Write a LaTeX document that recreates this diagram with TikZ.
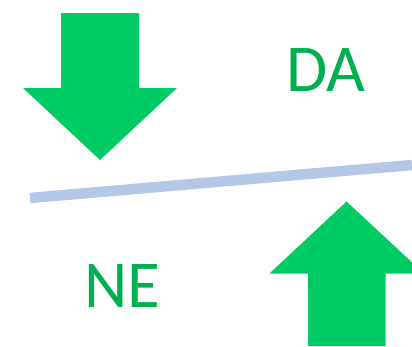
\documentclass[tikz,border=0pt]{standalone}
\usepackage{fontspec}
\setmainfont{Carlito}
\definecolor{arrowgreen}{HTML}{00CC66}
\definecolor{labelgreen}{HTML}{00B050}
\definecolor{barblue}{HTML}{B4C7E7}
\tikzset{
  bigarrow/.style={fill=arrowgreen, draw=none},
  label text/.style={text=labelgreen, inner sep=0pt, font=\fontsize{67}{67}\selectfont},
  bar/.style={draw=barblue, line width=10.5pt, line cap=butt}
}
\begin{document}
\begin{tikzpicture}[x=1pt, y=-1pt]
  \useasboundingbox (0,0) rectangle (412,346);
  \clip (0,0) rectangle (412,346);
  % downward arrow, upper left
  \fill[bigarrow] (61,13) -- (139,13) -- (139,88) -- (177,88) -- (100,160)
    -- (23,88) -- (61,88) -- cycle;
  % upward arrow, lower right (head runs past the edge)
  \fill[bigarrow] (308,346) -- (308,273.5) -- (269.5,273.5) -- (346.5,201.5)
    -- (424,273.5) -- (385.5,273.5) -- (385.5,346) -- cycle;
  % tilted bar between them
  \coordinate (barL) at (30,198);
  \coordinate (barR) at (412,165);
  \draw[bar] (barL) -- (barR);
  % labels
  \node[label text] (da) at (326,70) {DA};
  \node[label text] (ne) at (122,286) {NE};
\end{tikzpicture}
\end{document}
